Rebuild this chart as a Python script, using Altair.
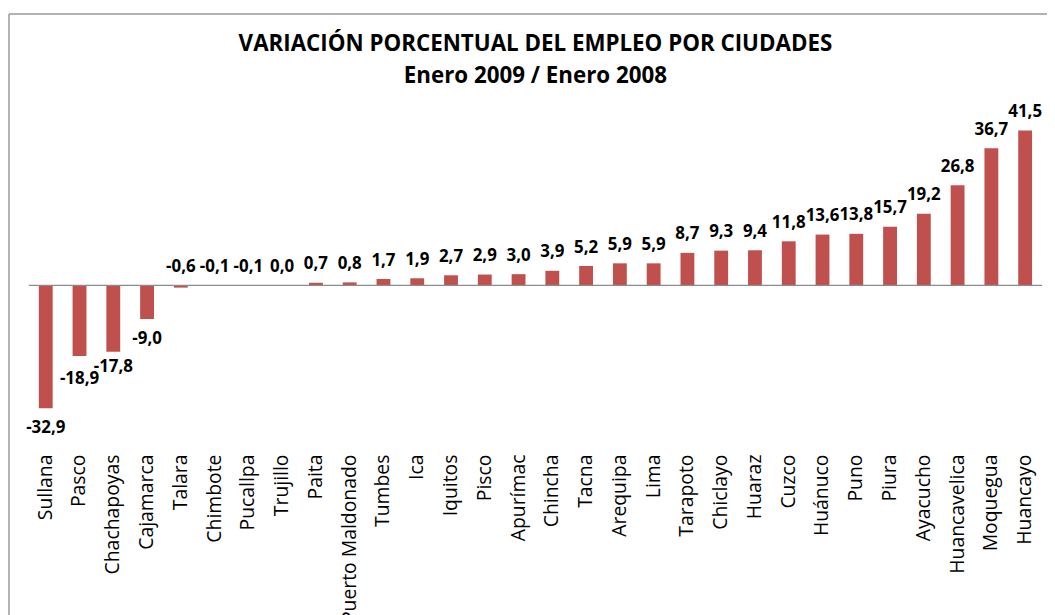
import altair as alt
import pandas as pd

ciudades = ["Sullana", "Pasco", "Chachapoyas", "Cajamarca", "Talara", "Chimbote",
            "Pucallpa", "Trujillo", "Paita", "Puerto Maldonado", "Tumbes", "Ica",
            "Iquitos", "Pisco", "Apurímac", "Chincha", "Tacna", "Arequipa", "Lima",
            "Tarapoto", "Chiclayo", "Huaraz", "Cuzco", "Huánuco", "Puno", "Piura",
            "Ayacucho", "Huancavelica", "Moquegua", "Huancayo"]
variacion = [-32.9, -18.9, -17.8, -9.0, -0.6, -0.1, -0.1, 0.0, 0.7, 0.8, 1.7, 1.9,
             2.7, 2.9, 3.0, 3.9, 5.2, 5.9, 5.9, 8.7, 9.3, 9.4, 11.8, 13.6, 13.8, 15.7,
             19.2, 26.8, 36.7, 41.5]

df = pd.DataFrame({
    "ciudad": ciudades,
    "v": variacion,
    "etiqueta": [f"{v:.1f}".replace(".", ",") for v in variacion],
})

FONT = "Open Sans"
RED = "#C0504D"

x = alt.X("ciudad:N", sort=ciudades, title=None,
          scale=alt.Scale(paddingInner=0.59, paddingOuter=0.295),
          axis=alt.Axis(labelAngle=-90, labelAlign="right", labelBaseline="middle",
                        labelFont=FONT, labelFontSize=19.5, labelColor="#000000",
                        labelPadding=10, ticks=False, domain=False, labelOverlap=False))
y_scale = alt.Scale(domain=[-42.5, 45], nice=False, zero=False)

base = alt.Chart(df)

bars = base.mark_bar(color=RED).encode(
    x=x,
    y=alt.Y("v:Q", scale=y_scale, axis=None),
    y2=alt.datum(0),
)

zero = alt.Chart(pd.DataFrame({"z": [0]})).mark_rule(color="#8c8c8c", strokeWidth=1.5).encode(
    y=alt.Y("z:Q", scale=y_scale)
)

pos_labels = base.transform_filter("datum.v >= -1").transform_calculate(
    yl="max(datum.v, 0)"
).mark_text(font=FONT, fontSize=17, fontWeight="bold", baseline="alphabetic",
            dy=-13.5, color="#000000").encode(
    x=x, y=alt.Y("yl:Q", scale=y_scale), text="etiqueta:N"
)

# staggered like the reference so neighbouring negative labels do not collide
neg_labels = base.transform_filter("datum.v < -1").transform_calculate(
    yl="datum.v - (datum.ciudad === 'Pasco' ? 0.8 : 0) + (datum.ciudad === 'Chachapoyas' ? 1.35 : 0)"
).mark_text(
    font=FONT, fontSize=17, fontWeight="bold", baseline="alphabetic",
    dy=25, color="#000000").encode(
    x=x, y=alt.Y("yl:Q", scale=y_scale), text="etiqueta:N"
)

frame_left = alt.Chart(pd.DataFrame({"a": [0]})).mark_rule(color="#9a9a9a", strokeWidth=1.5).encode(
    x=alt.value(-20), y=alt.value(-104), y2=alt.value(520)
)
frame_top = alt.Chart(pd.DataFrame({"a": [0]})).mark_rule(color="#9a9a9a", strokeWidth=1.5).encode(
    x=alt.value(-20), x2=alt.value(1040), y=alt.value(-104)
)

chart = alt.layer(frame_left, frame_top, bars, zero, pos_labels, neg_labels).properties(
    width=1020,
    height=329,
    autosize=alt.AutoSizeParams(type="none"),
    padding={"left": 21, "top": 108, "right": 5, "bottom": 170},
    title=alt.Title(
        text=["VARIACIÓN PORCENTUAL DEL EMPLEO POR CIUDADES", "Enero 2009 / Enero 2008"],
        font=FONT, fontSize=22.5, fontWeight="bold", color="#000000",
        anchor="middle", lineHeight=33, offset=-75, frame="group",
    ),
).configure(background="white").configure_view(strokeWidth=0, stroke="transparent")

chart.save("out.html", embed_options={"renderer": "svg", "actions": False})
